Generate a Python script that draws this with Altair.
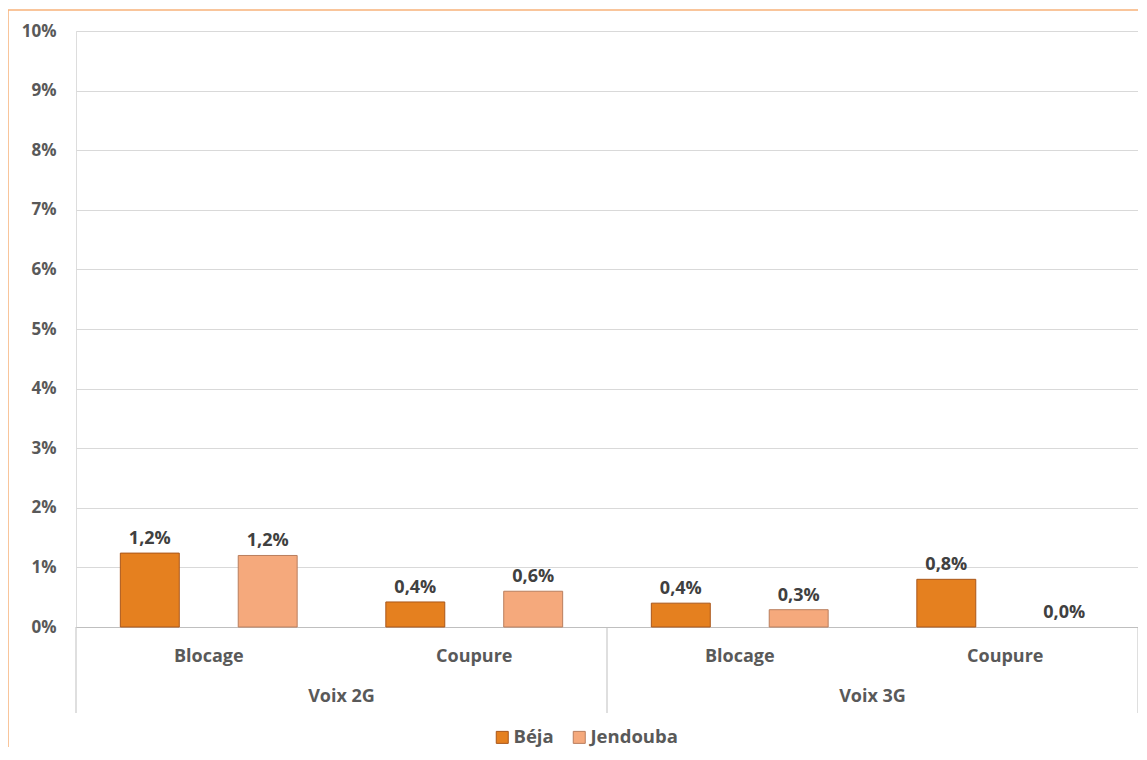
import altair as alt
import pandas as pd

groups = ["Voix 2G", "Voix 2G", "Voix 3G", "Voix 3G"]
subs = ["Blocage", "Coupure", "Blocage", "Coupure"]
beja = [1.24, 0.42, 0.40, 0.80]
jendouba = [1.20, 0.60, 0.29, 0.00]
series = ["Béja", "Jendouba"]
group_names = ["Voix 2G", "Voix 3G"]
y_ticks = [0, 1, 2, 3, 4, 5, 6, 7, 8, 9, 10]

rows = []
for i, (g, s) in enumerate(zip(groups, subs)):
    rows.append({"group": g, "sub": s, "idx": i, "series": "Béja", "sidx": 0, "value": beja[i]})
    rows.append({"group": g, "sub": s, "idx": i, "series": "Jendouba", "sidx": 1, "value": jendouba[i]})
df = pd.DataFrame(rows)
subdf = pd.DataFrame({"sub": subs, "idx": list(range(len(subs)))})
grpdf = pd.DataFrame({"group": group_names, "gidx": list(range(len(group_names)))})
sepdf = pd.DataFrame({"sep": [0, 2, 4]})

W, H = 1062, 596
FONT = "Open Sans"
TXT = "#595959"

xscale = alt.Scale(domain=[0, 4], nice=False, zero=False)
yscale = alt.Scale(domain=[0, 10], nice=False)

base = alt.Chart(df).transform_calculate(
    center="datum.idx + 0.5 + (datum.sidx == 0 ? -0.222 : 0.222)",
    x0="datum.center - 0.111",
    x1="datum.center + 0.111",
    zero="0",
    label="replace(format(datum.value, '.1f'), '.', ',') + '%'",
)

bars = base.transform_filter("datum.value > 0").mark_bar(strokeWidth=1).encode(
    x=alt.X("x0:Q", scale=xscale,
            axis=alt.Axis(labels=False, ticks=False, grid=False, title=None,
                          domainColor="#bfbfbf", domainWidth=1, values=[0])),
    x2="x1:Q",
    y=alt.Y("value:Q", scale=yscale,
            axis=alt.Axis(values=y_ticks, labelExpr="datum.value + '%'", title=None,
                          domain=False, ticks=False, labelPadding=20,
                          labelFont=FONT, labelFontSize=17, labelFontWeight="bold",
                          labelColor=TXT, gridColor="#d9d9d9", gridWidth=1)),
    y2="zero:Q",
    fill=alt.Fill("series:N", scale=alt.Scale(domain=series, range=["#E5801F", "#F5A97C"]),
                  legend=alt.Legend(title=None, orient="none", direction="horizontal",
                                    legendX=417, legendY=697, symbolType="square",
                                    symbolSize=144, symbolStrokeWidth=1,
                                    labelFont=FONT, labelFontSize=18.5, labelFontWeight="bold",
                                    labelColor=TXT, columnPadding=16, labelOffset=2)),
    stroke=alt.Stroke("series:N", scale=alt.Scale(domain=series, range=["#A9561A", "#B97E5E"]),
                      legend=None),
)

labels = base.mark_text(dy=-14, font=FONT, fontSize=18, fontWeight="bold", color="#404040").encode(
    x=alt.X("center:Q", scale=xscale),
    y=alt.Y("value:Q", scale=yscale),
    text="label:N",
)

sublabels = alt.Chart(subdf).transform_calculate(pos="datum.idx + 0.5").mark_text(
    font=FONT, fontSize=18, fontWeight="bold", color=TXT, baseline="middle"
).encode(x=alt.X("pos:Q", scale=xscale), y=alt.value(H + 30), text="sub:N")

grplabels = alt.Chart(grpdf).transform_calculate(pos="datum.gidx * 2 + 1").mark_text(
    font=FONT, fontSize=18, fontWeight="bold", color=TXT, baseline="middle"
).encode(x=alt.X("pos:Q", scale=xscale), y=alt.value(H + 70), text="group:N")

seps = alt.Chart(sepdf).mark_rule(color="#bfbfbf", strokeWidth=1).encode(
    x=alt.X("sep:Q", scale=xscale), y=alt.value(H), y2=alt.value(H + 86)
)

border_left = alt.Chart(sepdf.head(1)).mark_rule(color="#F7B27A", strokeWidth=1.5).encode(
    x=alt.value(-68), y=alt.value(-21), y2=alt.value(H + 140)
)
border_top = alt.Chart(sepdf.head(1)).mark_rule(color="#F7B27A", strokeWidth=1.5).encode(
    x=alt.value(-68), x2=alt.value(W + 20), y=alt.value(-21)
)

chart = alt.layer(bars, labels, sublabels, grplabels, seps, border_left, border_top).properties(
    width=W, height=H,
    autosize=alt.AutoSizeParams(type="none"),
    padding={"left": 68, "top": 23, "right": 0, "bottom": 120},
).configure_view(stroke=None).configure(background="white")

chart.save("out.html", embed_options={"renderer": "svg", "actions": False})
